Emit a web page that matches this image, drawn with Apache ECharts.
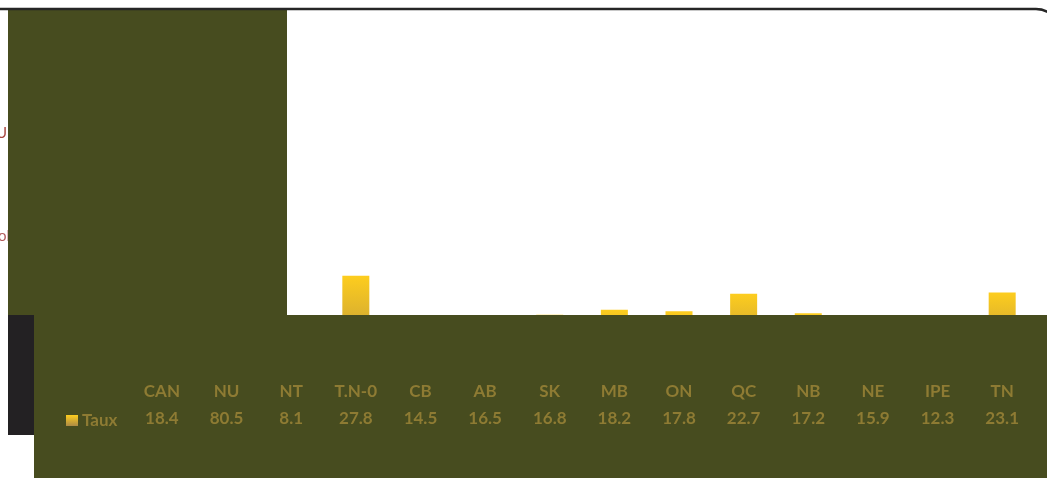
<!DOCTYPE html>
<html>
<head>
<meta charset="utf-8">
<script src="https://cdn.jsdelivr.net/npm/echarts@6/dist/echarts.min.js"></script>
<style>
  html, body { margin: 0; padding: 0; background: #ffffff; }
  #chart { width: 1047px; height: 478px; }
</style>
</head>
<body>
<div id="chart"></div>
<script>
// Provinces / territories and their rates
const categories = ['CAN', 'NU', 'NT', 'T.N-0', 'CB', 'AB', 'SK', 'MB', 'ON', 'QC', 'NB', 'NE', 'IPE', 'TN'];
const tauxValues = [18.4, 80.5, 8.1, 27.8, 14.5, 16.5, 16.8, 18.2, 17.8, 22.7, 17.2, 15.9, 12.3, 23.1];
const seriesName = 'Taux';

const OLIVE = '#474c1f';
const GOLD_TEXT = '#8e7b33';
const FONT = 'Lato, "Open Sans", sans-serif';

const barGradient = new echarts.graphic.LinearGradient(0, 0, 0, 1, [
  { offset: 0, color: '#fdcd1e' },
  { offset: 1, color: '#ad8a45' }
]);

const chart = echarts.init(document.getElementById('chart'), null, { renderer: 'canvas' });

chart.setOption({
  backgroundColor: '#ffffff',
  animation: false,
  grid: { left: 129.6, right: 12.5, top: 21, bottom: 104, containLabel: false },
  legend: {
    data: [seriesName],
    left: 61,
    top: 407,
    z: 10,
    icon: 'rect',
    itemWidth: 12,
    itemHeight: 11,
    itemGap: 4,
    textStyle: { color: GOLD_TEXT, fontFamily: FONT, fontWeight: 'bold', fontSize: 17, padding: [0, 0, 0, -1] }
  },
  xAxis: {
    type: 'category',
    data: categories,
    z: 10,
    axisLine: { show: false },
    axisTick: { show: false },
    axisLabel: {
      interval: 0,
      margin: 4,
      formatter: (value, idx) => '{c|' + value + '}\n{v|' + tauxValues[idx].toFixed(1) + '}',
      rich: {
        c: { color: GOLD_TEXT, fontFamily: FONT, fontWeight: 'bold', fontSize: 17, lineHeight: 27, align: 'center' },
        v: { color: GOLD_TEXT, fontFamily: FONT, fontWeight: 'bold', fontSize: 17, lineHeight: 27, align: 'center' }
      }
    }
  },
  yAxis: {
    type: 'value',
    min: 0,
    max: 100,
    show: false,
    splitLine: { show: false }
  },
  series: [{
    name: seriesName,
    type: 'bar',
    data: tauxValues,
    barWidth: 27,
    itemStyle: { color: barGradient }
  }],
  graphic: {
    elements: [
      // side text partly outside the frame
      { type: 'text', left: -4, top: 126, z: 4,
        style: { text: 'U', fill: '#a8463f', font: '15px ' + FONT } },
      { type: 'text', left: -2, top: 229, z: 4,
        style: { text: 'ol', fill: '#b25a5a', font: '15px ' + FONT } },
      // olive panel over the upper-left part of the plot
      { type: 'rect', z: 5, shape: { x: 8, y: 10, width: 279, height: 305 }, style: { fill: OLIVE } },
      // dark block at the lower left
      { type: 'rect', z: 5, shape: { x: 8, y: 315, width: 26, height: 120 }, style: { fill: '#232123' } },
      // olive band holding the data table
      { type: 'rect', z: 5, shape: { x: 34, y: 315, width: 1013, height: 163 }, style: { fill: OLIVE } },
      // rounded outer frame
      { type: 'rect', z: 6, shape: { x: -30, y: 9, width: 1090, height: 560, r: 24 },
        style: { fill: 'none', stroke: '#262626', lineWidth: 2.5 } }
    ]
  }
});
</script>
</body>
</html>
